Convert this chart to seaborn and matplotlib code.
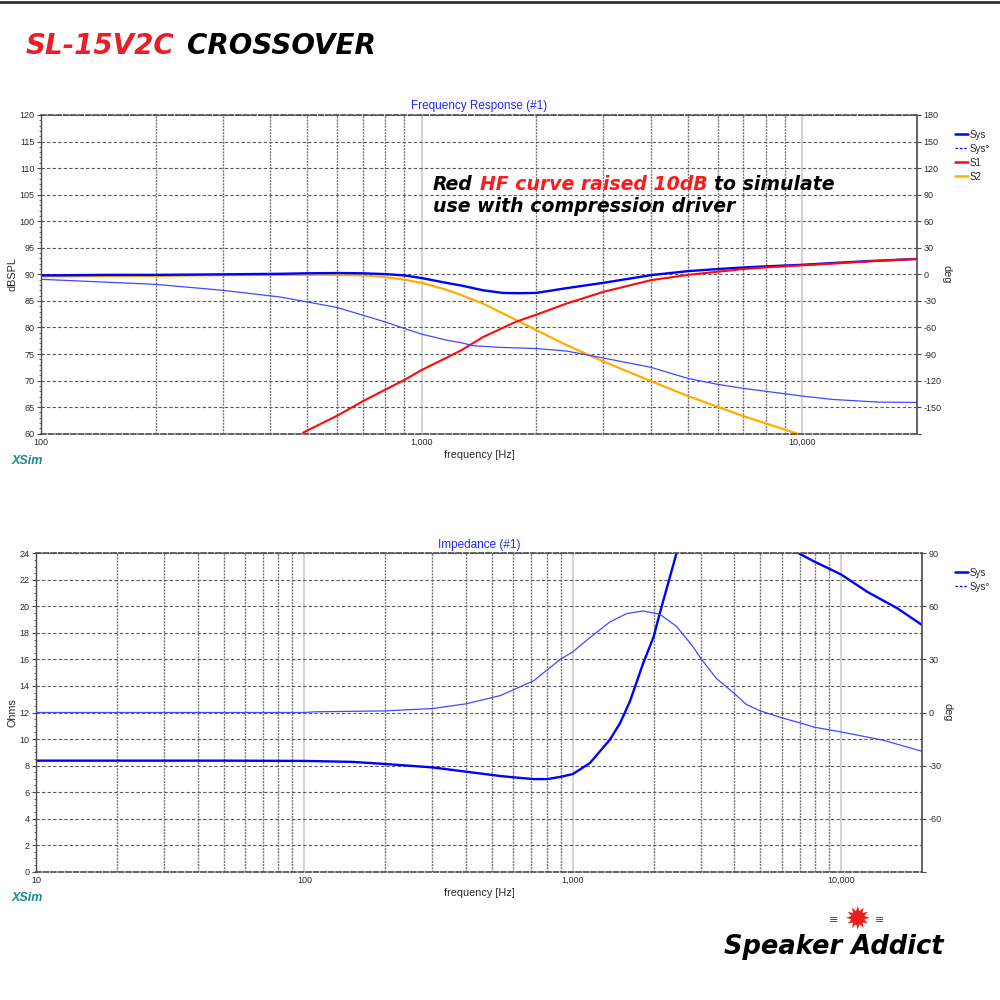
#!/usr/bin/env python3
"""SL-15V2C crossover -- XSim frequency response and impedance plots."""

import matplotlib
matplotlib.use("Agg")
import matplotlib.pyplot as plt
import matplotlib.ticker as mticker
from matplotlib.lines import Line2D
import seaborn as sns

# -- colours ------------------------------------------------------------------
sys_blue = "#0000ff"
phase_blue = "#4646ff"
s1_red = "#ff0a0a"
s2_orange = "#ffad00"
title_blue = "#2424ff"
xsim_teal = "#178a8a"
grid_dark = "#5a5a5a"
grid_minor = "#747474"
grid_major = "#c8c8c8"
spine_col = "#4a4a4a"
text_col = "#2a2a2a"

# -- data: frequency response (dBSPL, left axis) -------------------------------
sys_freq = [100, 150, 200, 300, 423, 500, 600, 700, 800, 900, 1000, 1161, 1270,
            1450, 1635, 1800, 2000, 2400, 3000, 4000, 5000, 6000, 7000, 8000,
            10000, 12500, 15000, 20000]
sys_db = [89.8, 89.9, 89.9, 90.0, 90.1, 90.2, 90.25, 90.2, 90.05, 89.8, 89.3,
          88.4, 87.9, 87.0, 86.5, 86.45, 86.5, 87.4, 88.4, 89.85, 90.6, 91.0,
          91.3, 91.5, 91.8, 92.2, 92.5, 92.9]

s1_freq = [488, 600, 700, 800, 900, 1000, 1185, 1270, 1450, 1772, 2000, 2400,
           3000, 4000, 5000, 6000, 7000, 8000, 10000, 12500, 15000, 20000]
s1_db = [60.2, 63.4, 66.1, 68.25, 70.1, 72.0, 74.6, 75.7, 78.2, 81.1, 82.4,
         84.5, 86.7, 88.9, 89.9, 90.5, 91.0, 91.3, 91.7, 92.1, 92.45, 92.9]

s2_freq = [100, 200, 300, 423, 500, 600, 700, 800, 900, 1000, 1161, 1270, 1450,
           1772, 2000, 2400, 3000, 4000, 5000, 7000, 9700, 11000]
s2_db = [89.6, 89.7, 89.85, 89.9, 89.9, 89.9, 89.8, 89.5, 89.0, 88.4, 87.1,
         86.1, 84.5, 81.4, 79.5, 76.7, 73.6, 69.9, 67.1, 63.3, 60.0, 58.6]

# system phase (deg, right axis)
sysph_freq = [100, 200, 300, 423, 500, 600, 700, 800, 900, 1000, 1161, 1270,
              1365, 1610, 2000, 2400, 3000, 4000, 5000, 6000, 7000, 10000,
              12000, 15800, 20000]
sysph_deg = [-5.6, -11.3, -18.0, -25.5, -31.1, -37.5, -46.1, -53.6, -61.1,
             -67.5, -74.3, -77.2, -80.6, -82.5, -83.8, -86.6, -94.5, -105.0,
             -117.5, -124.3, -128.8, -137.5, -141.3, -144.3, -144.7]

# -- data: impedance (Ohms, left axis) -----------------------------------------
z_freq = [10, 50, 100, 150, 200, 300, 400, 538, 620, 716, 802, 895, 1000, 1158,
          1374, 1500, 1632, 1828, 2000, 2110, 2299, 2434, 3000, 4000, 5000,
          6000, 6950, 7900, 10000, 12500, 16200, 20000]
z_ohm = [8.37, 8.37, 8.35, 8.28, 8.12, 7.86, 7.54, 7.21, 7.09, 6.98, 6.98,
         7.14, 7.36, 8.19, 9.95, 11.2, 12.83, 15.7, 17.7, 19.5, 22.2, 24.0,
         29.0, 28.0, 26.3, 24.7, 24.0, 23.4, 22.4, 21.1, 19.85, 18.6]

# impedance phase (deg, right axis)
zph_freq = [10, 100, 110, 200, 300, 400, 538, 716, 895, 1000, 1158, 1374, 1585,
            1828, 2110, 2434, 2807, 3000, 3430, 4000, 4436, 5000, 6000, 7000,
            7900, 10000, 14400, 20000]
zph_deg = [0.0, 0.0, 0.4, 0.9, 2.25, 4.9, 9.6, 18.0, 29.9, 34.3, 42.3, 51.2,
           55.9, 57.4, 55.5, 48.7, 37.1, 30.5, 19.2, 10.7, 4.5, 0.9, -3.0,
           -5.8, -8.25, -11.0, -15.75, -21.9]

# -- axis ranges / ticks -------------------------------------------------------
fr_xlim = (100, 20000)
fr_ylim = (60, 120)
fr_yticks = list(range(60, 121, 5))
fr_ph_ticks = list(range(-180, 181, 30))

z_xlim = (10, 20000)
z_ylim = (0, 24)
z_yticks = list(range(0, 25, 2))
z_ph_ticks = list(range(-90, 91, 30))

sns.set_style("white")
plt.rcParams["font.family"] = ["Liberation Sans", "DejaVu Sans"]
plt.rcParams["axes.unicode_minus"] = False

fig = plt.figure(figsize=(10, 10), dpi=100)
fig.patch.set_facecolor("white")

ax_fr = fig.add_axes([0.041, 0.5663, 0.876, 0.3187])
ax_z = fig.add_axes([0.036, 0.1283, 0.886, 0.3184])


def style_pair(ax, ax2, xlim, ylim, yticks, ph_ticks, n_minor):
    for a in (ax, ax2):
        a.set_xscale("log")
        a.set_xlim(*xlim)
    ax.set_ylim(*ylim)
    ax.set_yticks(yticks)
    ax.yaxis.set_minor_locator(mticker.AutoMinorLocator(n_minor))
    ax2.set_ylim(ph_ticks[0], ph_ticks[-1])
    ax2.set_yticks(ph_ticks)
    ax2.set_yticklabels([""] + [str(t) for t in ph_ticks[1:]])

    ax.xaxis.set_major_locator(mticker.LogLocator(base=10))
    ax.xaxis.set_major_formatter(mticker.FuncFormatter(lambda v, p: f"{v:,.0f}"))
    ax.xaxis.set_minor_locator(mticker.LogLocator(base=10, subs=range(2, 10)))
    ax.xaxis.set_minor_formatter(mticker.NullFormatter())

    ax.grid(which="major", axis="x", color=grid_major, lw=1.1, ls="-")
    ax.grid(which="minor", axis="x", color=grid_minor, lw=1.0, ls=(0, (1.5, 0.8)))
    ax.grid(which="major", axis="y", color=grid_dark, lw=0.8, ls=(0, (3, 2)))
    ax.set_axisbelow(True)

    ax.tick_params(axis="x", which="both", length=0, pad=3,
                   labelsize=6.5, labelcolor=text_col)
    ax.tick_params(axis="y", which="major", length=3, width=0.8, pad=1.5,
                   labelsize=6.5, labelcolor=text_col, color=spine_col)
    ax.tick_params(axis="y", which="minor", length=1.6, width=0.6,
                   color=spine_col)
    ax2.tick_params(axis="y", which="major", length=3, width=0.8, pad=1.5,
                    labelsize=6.5, labelcolor=text_col, color=spine_col)
    ax2.tick_params(axis="x", which="both", length=0, labelbottom=False)

    for side in ("top", "bottom"):
        ax.spines[side].set_linestyle((0, (3, 1.5)))
        ax.spines[side].set_color(spine_col)
        ax.spines[side].set_linewidth(1.2)
        ax2.spines[side].set_visible(False)
    ax.spines["left"].set_color(spine_col)
    ax.spines["left"].set_linewidth(1.0)
    ax.spines["right"].set_visible(False)
    ax2.spines["left"].set_visible(False)
    ax2.spines["right"].set_color(spine_col)
    ax2.spines["right"].set_linewidth(1.2)


# -- frequency response -------------------------------------------------------
ax_fr2 = ax_fr.twinx()
sns.lineplot(x=s2_freq, y=s2_db, ax=ax_fr, color=s2_orange, lw=1.6)
sns.lineplot(x=sys_freq, y=sys_db, ax=ax_fr, color=sys_blue, lw=1.7)
sns.lineplot(x=s1_freq, y=s1_db, ax=ax_fr, color=s1_red, lw=1.5)
sns.lineplot(x=sysph_freq, y=sysph_deg, ax=ax_fr2, color=phase_blue, lw=0.9)
style_pair(ax_fr, ax_fr2, fr_xlim, fr_ylim, fr_yticks, fr_ph_ticks, 5)

ax_fr.set_title("Frequency Response (#1)", color=title_blue, fontsize=8.5, pad=4)
ax_fr.set_ylabel("dBSPL", fontsize=7.8, color=text_col, va="center")
ax_fr.yaxis.set_label_coords(-0.032, 0.5)
ax_fr2.set_ylabel("deg", fontsize=7.8, color=text_col, rotation=270, va="center")
ax_fr2.yaxis.set_label_coords(1.034, 0.5)
ax_fr.set_xlabel("frequency [Hz]", fontsize=7.8, color=text_col, va="center")
ax_fr.xaxis.set_label_coords(0.5, -0.066)

fr_handles = [
    Line2D([], [], color=sys_blue, lw=1.8),
    Line2D([], [], color=sys_blue, lw=0.9, ls=(0, (2, 1.5))),
    Line2D([], [], color=s1_red, lw=1.8),
    Line2D([], [], color=s2_orange, lw=1.8),
]
fig.legend(fr_handles, ["Sys", "Sys°", "S1", "S2"], loc="upper left",
           bbox_to_anchor=(0.955, 0.8705), bbox_transform=fig.transFigure,
           frameon=False, fontsize=7, handlelength=1.3, handletextpad=0.15,
           labelspacing=0.42, borderpad=0, borderaxespad=0)

# -- impedance ---------------------------------------------------------------
ax_z2 = ax_z.twinx()
sns.lineplot(x=z_freq, y=z_ohm, ax=ax_z, color=sys_blue, lw=1.7)
sns.lineplot(x=zph_freq, y=zph_deg, ax=ax_z2, color=phase_blue, lw=0.9)
style_pair(ax_z, ax_z2, z_xlim, z_ylim, z_yticks, z_ph_ticks, 4)

ax_z.set_title("Impedance (#1)", color=title_blue, fontsize=8.5, pad=4)
ax_z.set_ylabel("Ohms", fontsize=7.8, color=text_col, va="center")
ax_z.yaxis.set_label_coords(-0.027, 0.5)
ax_z2.set_ylabel("deg", fontsize=7.8, color=text_col, rotation=270, va="center")
ax_z2.yaxis.set_label_coords(1.029, 0.5)
ax_z.set_xlabel("frequency [Hz]", fontsize=7.8, color=text_col, va="center")
ax_z.xaxis.set_label_coords(0.5, -0.066)

z_handles = [
    Line2D([], [], color=sys_blue, lw=1.8),
    Line2D([], [], color=sys_blue, lw=0.9, ls=(0, (2, 1.5))),
]
fig.legend(z_handles, ["Sys", "Sys°"], loc="upper left",
           bbox_to_anchor=(0.955, 0.4325), bbox_transform=fig.transFigure,
           frameon=False, fontsize=7, handlelength=1.3, handletextpad=0.15,
           labelspacing=0.42, borderpad=0, borderaxespad=0)

# XSim tags
for ypos in (1 - 0.461, 1 - 0.898):
    fig.text(0.012, ypos, "XSim", color=xsim_teal, fontsize=9,
             fontweight="bold", fontstyle="italic", va="center")

# -- headline + note ---------------------------------------------------------
bold_it = dict(family="DejaVu Sans", fontweight="bold", fontstyle="italic")

t = fig.text(0.026, 0.946, "SL-15V2C", color="#e81e28", fontsize=20,
             va="baseline", **bold_it)
ax_fr.annotate("CROSSOVER", xy=(1, 0), xycoords=t, xytext=(9, 0),
               textcoords="offset points", va="bottom", color="black",
               fontsize=20, **bold_it)

note_size = 13.6
t = fig.text(0.433, 0.810, "Red", color="black", fontsize=note_size,
             va="baseline", **bold_it)
t = ax_fr.annotate("HF curve raised 10dB", xy=(1, 0), xycoords=t,
                   xytext=(5, 0), textcoords="offset points", va="bottom",
                   color="#ff1a1a", fontsize=note_size, **bold_it)
ax_fr.annotate("to simulate", xy=(1, 0), xycoords=t, xytext=(5, 0),
               textcoords="offset points", va="bottom", color="black",
               fontsize=note_size, **bold_it)
fig.text(0.433, 0.7885, "use with compression driver", color="black",
         fontsize=note_size, va="baseline", **bold_it)

# -- logo ----------------------------------------------------------------------
fig.text(0.724, 0.046, "Speaker Addict", color="black", fontsize=18.5,
         va="baseline", **bold_it)
fig.text(0.857, 0.080, "\u2739", color="#e82020", fontsize=22,
         ha="center", va="center", family="DejaVu Sans")
fig.text(0.834, 0.080, "\u2261", color="#444444", fontsize=8,
         ha="center", va="center", family="DejaVu Sans")
fig.text(0.880, 0.080, "\u2261", color="#444444", fontsize=8,
         ha="center", va="center", family="DejaVu Sans")

# top border
fig.add_artist(Line2D([0, 1], [0.9985, 0.9985], transform=fig.transFigure,
                      color="#333333", lw=2))

fig.savefig("out.png", dpi=100, facecolor="white")
plt.close(fig)
